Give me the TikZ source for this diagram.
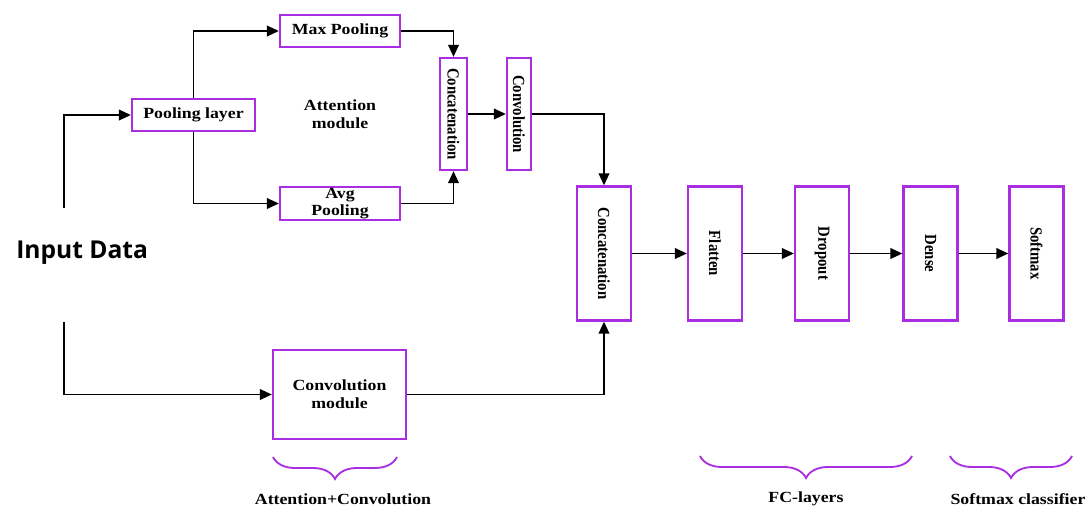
\documentclass[tikz,border=0pt]{standalone}
\usepackage{fontspec}
\setmainfont{Liberation Serif}[FakeStretch=1.15]
\newfontfamily\rotfont{Liberation Serif}
\newfontfamily\inpfont{Open Sans}
\usepackage{graphicx}
\usepackage{tikz}
\usetikzlibrary{arrows.meta}
\usetikzlibrary{decorations.pathreplacing}
\definecolor{boxpurple}{RGB}{170,45,225}
\newcommand{\pxu}{0.025cm}
\newcommand{\bgbxw}{54*\pxu}
\newcommand{\bgbxh}{134*\pxu}
\newcommand{\smbxh}{112*\pxu}
\newcommand{\bsly}{253.5}
\newcommand{\vtext}[1]{\rotatebox[origin=c]{-90}{\scalebox{1}[1.15]{\rotfont\bfseries\fontsize{10.5}{12}\selectfont #1}}}

\begin{document}
\begin{tikzpicture}[x=\pxu,y=-\pxu,font=\fontsize{11}{12}\selectfont\bfseries,
    box/.style={draw=boxpurple,line width=1.6pt,inner sep=0pt},
    arr/.style={-{Triangle[length=8.5pt,width=7.5pt]},line width=1.3pt},
    brc/.style={draw=boxpurple,line width=1.3pt,decorate,
      decoration={brace,mirror,amplitude=0.55cm}}]
    \useasboundingbox (0,0) rectangle (1088,508);

    \node[box,minimum width=120*\pxu,minimum height=32*\pxu] (maxpl) at (340,31) {Max Pooling};
    \node[box,minimum width=123*\pxu,minimum height=32*\pxu] (poollyr) at (193.5,115) {Pooling layer};
    \node[box,minimum width=120*\pxu,minimum height=33*\pxu,align=center] (avgpl) at (340,203.5) {Avg\\Pooling};
    \node[align=center] (attn) at (340,114) {Attention\\[1pt]module};
    \node[box,minimum width=27*\pxu,minimum height=\smbxh] (concsm) at (453.5,114) {\vtext{Concatenation}};
    \node[box,minimum width=24*\pxu,minimum height=\smbxh] (convsm) at (519,114) {\vtext{Convolution}};

    \node[box,minimum width=\bgbxw,minimum height=\bgbxh] (concbg) at (604,\bsly) {\vtext{Concatenation}};
    \node[box,minimum width=\bgbxw,minimum height=\bgbxh] (flat) at (715,\bsly) {\vtext{Flatten}};
    \node[box,minimum width=\bgbxw,minimum height=\bgbxh] (drop) at (822,\bsly) {\vtext{Dropout}};
    \node[box,minimum width=\bgbxw,minimum height=\bgbxh] (dens) at (930.5,\bsly) {\vtext{Dense}};
    \node[box,minimum width=\bgbxw,minimum height=\bgbxh] (smax) at (1036.5,\bsly) {\vtext{Softmax}};

    \node[box,minimum width=133*\pxu,minimum height=89*\pxu,align=center] (convmod) at (339.5,394.5) {Convolution\\[1pt]module};

    \node[anchor=west,inner sep=0pt,font=\inpfont\bfseries\fontsize{17.5}{20}\selectfont] (inpd) at (16,253) {Input Data};
    \coordinate (inptop) at (64,208);
    \coordinate (inpbot) at (64,322);

    \draw[arr] (inptop) |- (poollyr.west);
    \draw[arr] (inpbot) |- (convmod.west);
    \draw[arr] (poollyr.north) |- (maxpl.west);
    \draw[arr] (poollyr.south) |- (avgpl.west);
    \draw[arr] (maxpl.east) -| (concsm.north);
    \draw[arr] (avgpl.east) -| (concsm.south);
    \draw[arr] (concsm) -- (convsm);
    \draw[arr] (convsm.east) -| (concbg.north);
    \draw[arr] (convmod.east) -| (concbg.south);
    \draw[arr] (concbg) -- (flat);
    \draw[arr] (flat) -- (drop);
    \draw[arr] (drop) -- (dens);
    \draw[arr] (dens) -- (smax);

    \draw[brc] (273,457) -- (397,457);
    \draw[brc] (700,456) -- (912,456);
    \draw[brc] (950,456) -- (1072,456);
    \node (lblac) at (343,499) {Attention+Convolution};
    \node (lblfc) at (806,499) {FC-layers};
    \node (lblsm) at (1018,499) {Softmax classifier};
  \end{tikzpicture}
\end{document}
